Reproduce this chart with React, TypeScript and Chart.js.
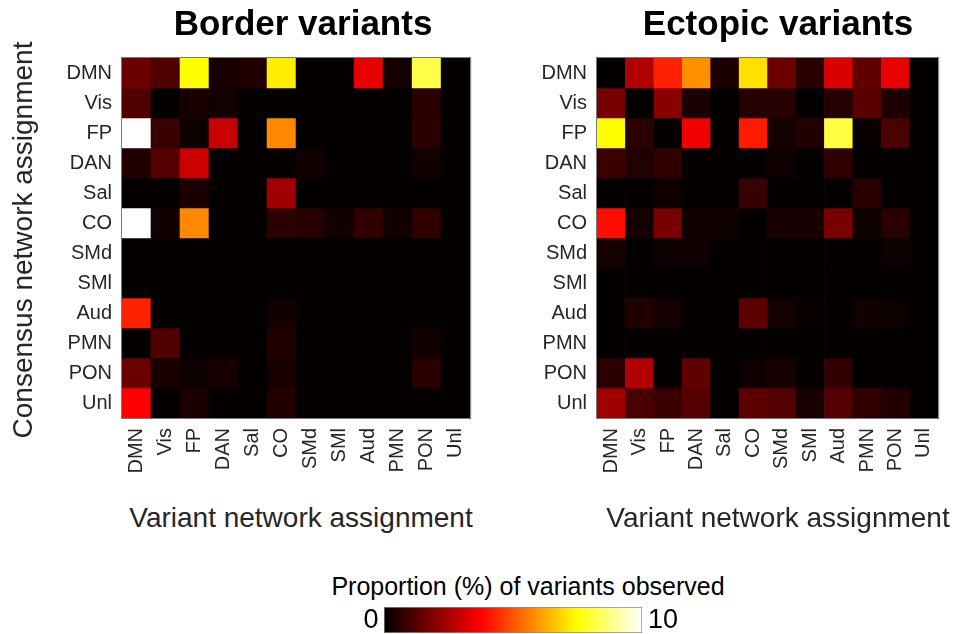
import React, { useEffect, useRef } from "react";
import { Chart, registerables } from "chart.js";

Chart.register(...registerables);

// ---------- data ----------
const NETWORKS = ["DMN", "Vis", "FP", "DAN", "Sal", "CO", "SMd", "SMl", "Aud", "PMN", "PON", "Unl"];

// rows = consensus network (top to bottom), columns = variant network (left to right), values in %
const BORDER_VALUES = [
  [1.57, 1.16, 7.5, 0.37, 0.47, 7.25, 0, 0, 3.38, 0.3, 8.2, 0],
  [1.18, 0, 0.35, 0.26, 0, 0, 0, 0, 0, 0, 0.6, 0],
  [10, 0.85, 0.18, 2.94, 0, 5.75, 0, 0, 0, 0, 0.62, 0],
  [0.5, 1.2, 3.0, 0, 0, 0, 0.24, 0, 0, 0, 0.24, 0],
  [0, 0, 0.38, 0, 0, 2.38, 0, 0, 0, 0, 0, 0],
  [10, 0.25, 5.75, 0, 0, 0.62, 0.56, 0.24, 0.7, 0.25, 0.7, 0],
  [0, 0, 0, 0, 0, 0, 0, 0, 0, 0, 0, 0],
  [0, 0, 0, 0, 0, 0, 0, 0, 0, 0, 0, 0],
  [4.25, 0, 0, 0, 0, 0.24, 0, 0, 0, 0, 0, 0],
  [0, 1.18, 0, 0, 0, 0.47, 0, 0, 0, 0, 0.24, 0],
  [1.56, 0.35, 0.18, 0.35, 0, 0.35, 0, 0, 0, 0, 0.59, 0],
  [3.75, 0, 0.38, 0, 0, 0.5, 0, 0, 0, 0, 0, 0],
];

const ECTOPIC_VALUES = [
  [0, 2.59, 4.22, 5.87, 0.38, 7.04, 1.56, 0.59, 3.18, 1.41, 3.41, 0],
  [1.76, 0, 2.03, 0.38, 0, 0.54, 0.53, 0, 0.54, 1.32, 0.38, 0],
  [7.5, 0.62, 0, 3.53, 0, 4.13, 0.31, 0.47, 8.13, 0.15, 1.06, 0],
  [0.85, 0.47, 0.71, 0, 0, 0, 0.21, 0, 0.68, 0, 0, 0],
  [0, 0, 0.21, 0, 0, 0.82, 0, 0, 0, 0.59, 0, 0],
  [3.96, 0.29, 1.76, 0.21, 0.21, 0, 0.35, 0.35, 1.76, 0.21, 0.59, 0],
  [0.32, 0, 0.18, 0.21, 0, 0, 0, 0, 0, 0, 0.21, 0],
  [0, 0, 0, 0, 0, 0, 0, 0, 0, 0, 0, 0],
  [0, 0.47, 0.29, 0, 0, 1.35, 0.29, 0.15, 0, 0.26, 0.18, 0],
  [0, 0, 0, 0, 0, 0, 0, 0, 0, 0, 0, 0],
  [0.62, 2.59, 0, 1.41, 0, 0.21, 0.32, 0, 0.74, 0, 0, 0],
  [2.35, 1.06, 0.85, 1.24, 0, 1.35, 1.24, 0.35, 1.24, 0.71, 0.5, 0],
];

const COLOR_MIN = 0;
const COLOR_MAX = 10;
const COLORBAR_TICKS = ["0", "10"];

// ---------- helpers ----------
const FONT = '"Liberation Sans", Arial, Helvetica, sans-serif';
const TICK_COLOR = "#262626";

function hot(v: number): string {
  const x = Math.max(0, Math.min(1, (v - COLOR_MIN) / (COLOR_MAX - COLOR_MIN)));
  const r = Math.min(1, x / 0.375);
  const g = Math.max(0, Math.min(1, (x - 0.375) / 0.375));
  const b = Math.max(0, Math.min(1, (x - 0.75) / 0.25));
  return `rgb(${Math.max(4, Math.round(r * 255))},${Math.round(g * 255)},${Math.round(b * 255)})`;
}

const framePlugin = {
  id: "frame",
  afterDatasetsDraw(chart: any) {
    const a = chart.chartArea;
    const ctx = chart.ctx;
    ctx.save();
    ctx.strokeStyle = "#7a7a7a";
    ctx.lineWidth = 1;
    ctx.strokeRect(a.left - 0.5, a.top - 0.5, a.right - a.left + 1, a.bottom - a.top + 1);
    ctx.restore();
  },
};

type HeatProps = {
  values: number[][];
  left: number;
  width: number;
  yAxisWidth: number;
};

const PLOT_TOP = 58;
const PLOT_SIZE = 360;
const CANVAS_H = 500;

function Heatmap({ values, left, width, yAxisWidth }: HeatProps) {
  const ref = useRef<HTMLCanvasElement>(null);
  useEffect(() => {
    const padRight = width - yAxisWidth - PLOT_SIZE;
    const chart = new Chart(ref.current as HTMLCanvasElement, {
      type: "bar",
      data: {
        labels: NETWORKS,
        datasets: values.map((row, i) => ({
          label: NETWORKS[i],
          data: row.map(() => [i, i + 1]),
          backgroundColor: row.map((v) => hot(v)),
          borderWidth: 0,
          grouped: false,
          barPercentage: 1,
          categoryPercentage: 1,
        })),
      } as any,
      options: {
        responsive: false,
        maintainAspectRatio: false,
        animation: false,
        events: [],
        layout: { padding: { left: 0, right: padRight, top: PLOT_TOP, bottom: 0 } },
        plugins: {
          legend: { display: false },
          tooltip: { enabled: false },
          title: { display: false },
        },
        scales: {
          x: {
            type: "category",
            offset: true,
            grid: { display: false, drawTicks: false },
            border: { display: false },
            ticks: {
              autoSkip: false,
              maxRotation: 90,
              minRotation: 90,
              padding: 10,
              color: TICK_COLOR,
              font: { family: FONT, size: 20 },
            },
            afterFit: (s: any) => {
              s.height = CANVAS_H - PLOT_TOP - PLOT_SIZE;
            },
          },
          y: {
            type: "linear",
            min: 0,
            max: NETWORKS.length,
            reverse: true,
            grid: { display: false, drawTicks: false },
            border: { display: false },
            afterBuildTicks: (s: any) => {
              s.ticks = NETWORKS.map((_, i) => ({ value: i + 0.5 }));
            },
            ticks: {
              autoSkip: false,
              padding: 10,
              color: TICK_COLOR,
              font: { family: FONT, size: 20 },
              callback: (_v: any, i: number) => NETWORKS[i],
            },
            afterFit: (s: any) => {
              s.width = yAxisWidth;
            },
          },
        },
      } as any,
      plugins: [framePlugin],
    });
    return () => chart.destroy();
  }, []);
  return (
    <canvas
      ref={ref}
      width={width}
      height={CANVAS_H}
      style={{ position: "absolute", left, top: 0, width, height: CANVAS_H, display: "block" }}
    />
  );
}

function ColorBar({ left, top, width, height }: { left: number; top: number; width: number; height: number }) {
  const ref = useRef<HTMLCanvasElement>(null);
  useEffect(() => {
    const chart = new Chart(ref.current as HTMLCanvasElement, {
      type: "bar",
      data: {
        labels: [""],
        datasets: [
          {
            data: [[COLOR_MIN, COLOR_MAX]],
            backgroundColor: (c: any) => {
              const a = c.chart.chartArea;
              if (!a) return "#000";
              const g = c.chart.ctx.createLinearGradient(a.left, 0, a.right, 0);
              const steps = 64;
              for (let k = 0; k <= steps; k++) {
                const t = k / steps;
                g.addColorStop(t, hot(COLOR_MIN + t * (COLOR_MAX - COLOR_MIN)));
              }
              return g;
            },
            borderColor: "#8a8a8a",
            borderWidth: 1,
            borderSkipped: false,
            barPercentage: 1,
            categoryPercentage: 1,
          },
        ],
      } as any,
      options: {
        indexAxis: "y",
        responsive: false,
        maintainAspectRatio: false,
        animation: false,
        events: [],
        layout: { padding: 0 },
        plugins: { legend: { display: false }, tooltip: { enabled: false } },
        scales: {
          x: { type: "linear", display: false, min: COLOR_MIN, max: COLOR_MAX },
          y: { display: false },
        },
      } as any,
    });
    return () => chart.destroy();
  }, []);
  return (
    <canvas
      ref={ref}
      width={width}
      height={height}
      style={{ position: "absolute", left, top, width, height, display: "block" }}
    />
  );
}

function Text({
  text,
  cx,
  top,
  size,
  bold,
  color,
  rotate,
}: {
  text: string;
  cx: number;
  top: number;
  size: number;
  bold?: boolean;
  color?: string;
  rotate?: boolean;
}) {
  const w = 600;
  return (
    <div
      style={{
        position: "absolute",
        left: cx - w / 2,
        top,
        width: w,
        height: size,
        lineHeight: `${size}px`,
        fontSize: size,
        fontFamily: FONT,
        fontWeight: bold ? 700 : 400,
        color: color || TICK_COLOR,
        textAlign: "center",
        whiteSpace: "nowrap",
        transform: rotate ? "rotate(-90deg)" : undefined,
        transformOrigin: "center center",
      }}
    >
      {text}
    </div>
  );
}

export default function App() {
  return (
    <div
      style={{
        position: "absolute",
        left: 0,
        top: 0,
        width: 958,
        height: 634,
        background: "#ffffff",
        overflow: "hidden",
      }}
    >
      <Heatmap values={BORDER_VALUES} left={0} width={490} yAxisWidth={122} />
      <Heatmap values={ECTOPIC_VALUES} left={480} width={478} yAxisWidth={117} />

      <Text text="Border variants" cx={303} top={5} size={35} bold color="#000" />
      <Text text="Ectopic variants" cx={778} top={5} size={35} bold color="#000" />

      <Text text="Variant network assignment" cx={301} top={504} size={28} />
      <Text text="Variant network assignment" cx={778} top={504} size={28} />

      <Text text="Consensus network assignment" cx={23} top={226} size={28} rotate />

      <Text text="Proportion (%) of variants observed" cx={528} top={574} size={25} color="#000" />
      <ColorBar left={384} top={607} width={258} height={26} />
      <Text text={COLORBAR_TICKS[0]} cx={371} top={606} size={27} color="#000" />
      <Text text={COLORBAR_TICKS[1]} cx={663} top={606} size={27} color="#000" />
    </div>
  );
}
